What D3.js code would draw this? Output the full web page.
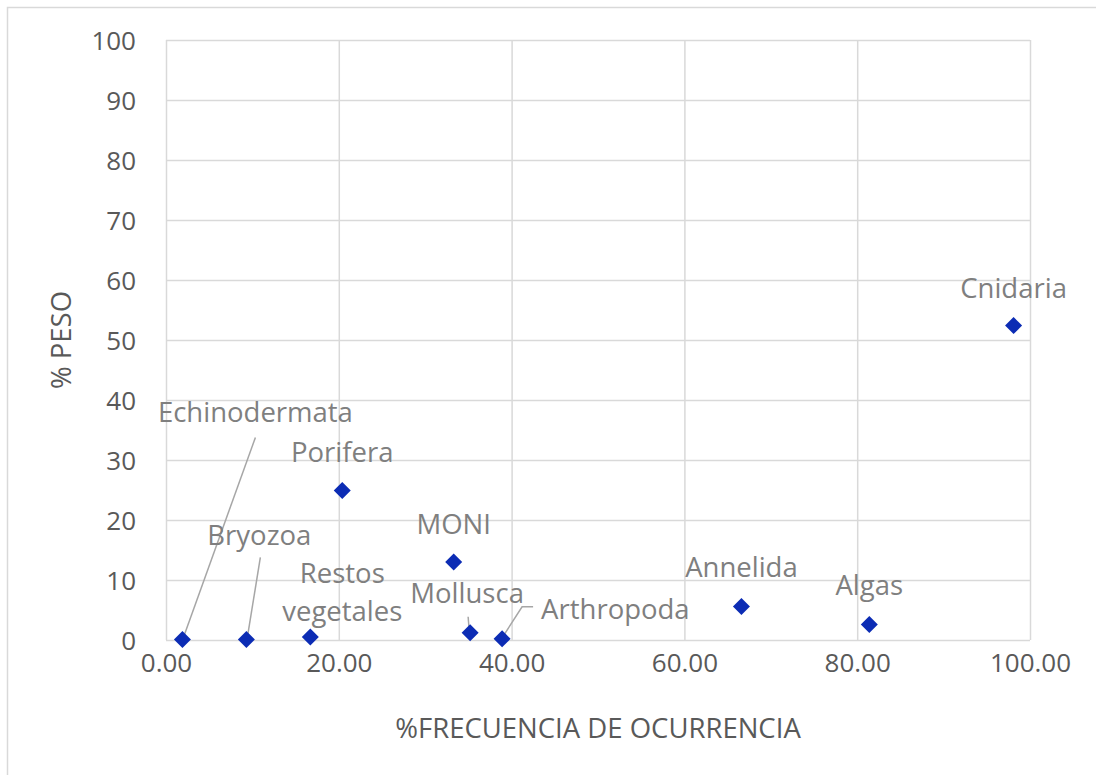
<!DOCTYPE html>
<html><head><meta charset="utf-8">
<script src="https://cdn.jsdelivr.net/npm/d3@7"></script>
<style>body{margin:0;background:#fff;} text{font-family:"Open Sans",sans-serif;}</style>
</head><body><svg id="c" width="1096" height="775"></svg>
<script>
const names = ["Echinodermata","Bryozoa","Restos vegetales","Porifera","MONI","Mollusca","Arthropoda","Annelida","Algas","Cnidaria"];
const frecuencia = [1.9, 9.3, 16.7, 20.4, 33.3, 35.2, 38.9, 66.6, 81.4, 98.1];
const peso = [0.1, 0.1, 0.5, 24.9, 13.0, 1.2, 0.2, 5.6, 2.6, 52.4];
const xTicks = [0,20,40,60,80,100];
const yTicks = [0,10,20,30,40,50,60,70,80,90,100];
// label layout (pixel offsets from point to label anchor), leader lines as pixel offsets
const labelLayout = [
  {dx:73, dy:-217, anchor:"middle", lines:["Echinodermata"], leader:[[73,-202],[1,-2]]},
  {dx:13, dy:-94, anchor:"middle", lines:["Bryozoa"], leader:[[14,-82],[1,-2]]},
  {dx:32, dy:-54, anchor:"middle", lines:["Restos","vegetales"]},
  {dx:0, dy:-29, anchor:"middle", lines:["Porifera"]},
  {dx:0, dy:-28, anchor:"middle", lines:["MONI"]},
  {dx:-3, dy:-30, anchor:"middle", lines:["Mollusca"], leader:[[-2,-16],[-1,-3]]},
  {dx:39, dy:-20, anchor:"start", lines:["Arthropoda"], leader:[[31,-32],[20,-32],[0,-1]]},
  {dx:0, dy:-29, anchor:"middle", lines:["Annelida"]},
  {dx:0, dy:-29, anchor:"middle", lines:["Algas"]},
  {dx:0, dy:-28, anchor:"middle", lines:["Cnidaria"]}
];
const svg = d3.select("#c");
const L=166, R=1030, T=40, B=640;
const x = d3.scaleLinear().domain([0,100]).range([L,R]);
const y = d3.scaleLinear().domain([0,100]).range([B,T]);
const grid="#d9d9d9", tickCol="#595959", lblCol="#7f7f7f", fs=26, fl=27.5;
svg.append("rect").attr("x",7.5).attr("y",7.5).attr("width",1100).attr("height",800).attr("fill","none").attr("stroke","#d9d9d9").attr("stroke-width",1.5);
const gx = svg.append("g").attr("transform",`translate(0,${B})`)
  .call(d3.axisBottom(x).tickValues(xTicks).tickFormat(d3.format(".2f")).tickSize(-(B-T)).tickPadding(14));
const gy = svg.append("g").attr("transform",`translate(${L},0)`)
  .call(d3.axisLeft(y).tickValues(yTicks).tickFormat(d3.format("d")).tickSize(-(R-L)).tickPadding(30));
[gx,gy].forEach(g=>{
  g.select(".domain").remove();
  g.selectAll(".tick line").attr("stroke",grid).attr("stroke-width",1.5);
  g.selectAll(".tick text").attr("fill",tickCol).attr("font-size",fs).attr("font-family","Open Sans");
});
gx.selectAll(".tick text").attr("dy","0.71em");
gy.selectAll(".tick text").attr("dy","0.35em");
svg.append("text").attr("x",598).attr("y",738).attr("text-anchor","middle").attr("fill",tickCol).attr("font-size",fl).text("%FRECUENCIA DE OCURRENCIA");
svg.append("text").attr("transform","translate(71,340) rotate(-90)").attr("text-anchor","middle").attr("fill",tickCol).attr("font-size",fl).text("% PESO");
const data = names.map((n,i)=>({n, fx:frecuencia[i], p:peso[i], lay:labelLayout[i]}));
const gl = svg.append("g");
data.forEach(d=>{
  const px=x(d.fx), py=y(d.p);
  if(d.lay.leader){
    gl.append("path").attr("d", d3.line()(d.lay.leader.map(q=>[px+q[0],py+q[1]]))).attr("fill","none").attr("stroke","#a6a6a6").attr("stroke-width",1.5);
  }
});
svg.append("g").selectAll("path.pt").data(data).join("path").attr("class","pt")
  .attr("transform",d=>`translate(${x(d.fx)},${y(d.p)})`)
  .attr("d","M0,-8.5L8.5,0L0,8.5L-8.5,0Z").attr("fill","#0c2cb4");
data.forEach(d=>{
  const px=x(d.fx), py=y(d.p);
  const t = svg.append("text").attr("x",px+d.lay.dx).attr("y",py+d.lay.dy).attr("text-anchor",d.lay.anchor).attr("fill",lblCol).attr("font-size",fl);
  d.lay.lines.forEach((ln,i)=>t.append("tspan").attr("x",px+d.lay.dx).attr("dy",i?38:0).text(ln));
});
</script></body></html>
